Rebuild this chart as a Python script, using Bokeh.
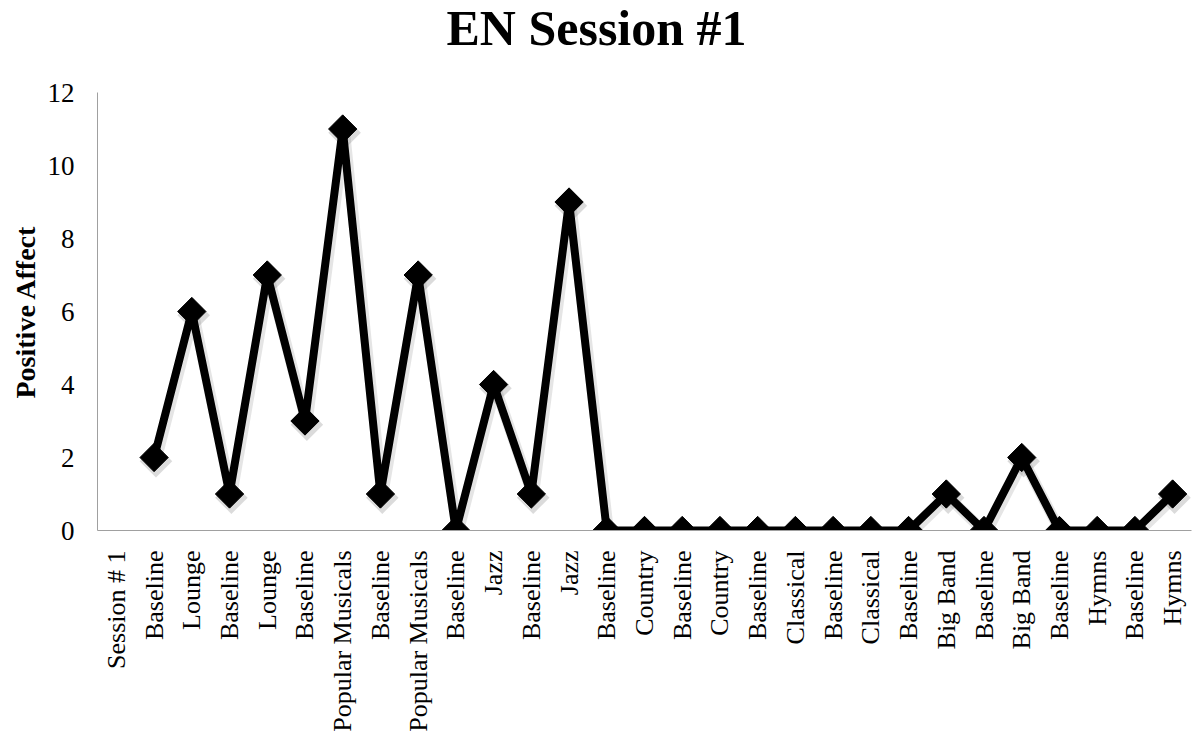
import math
from bokeh.plotting import figure
from bokeh.models import FixedTicker, ColumnDataSource, Label, Title
from bokeh.transform import dodge
from bokeh.embed import file_html
from bokeh.resources import INLINE

categories = ["Session # 1", "Baseline", "Lounge", "Baseline", "Lounge", "Baseline",
              "Popular Musicals", "Baseline", "Popular Musicals", "Baseline", "Jazz",
              "Baseline", "Jazz", "Baseline", "Country", "Baseline", "Country", "Baseline",
              "Classical", "Baseline", "Classical", "Baseline", "Big Band", "Baseline",
              "Big Band", "Baseline", "Hymns", "Baseline", "Hymns"]
positive_affect = [None, 2, 6, 1, 7, 3, 11, 1, 7, 0, 4, 1, 9, 0, 0, 0, 0, 0, 0, 0, 0,
                   0, 1, 0, 2, 0, 0, 0, 1]
y_ticks = [0, 2, 4, 6, 8, 10, 12]
title_text = "EN Session #1"
y_label = "Positive Affect"

idx = list(range(len(categories)))
xs = [i for i, v in zip(idx, positive_affect) if v is not None]
ys = [v for v in positive_affect if v is not None]
src = ColumnDataSource(dict(x=xs, y=ys))

FONT = "Liberation Serif"
W, H = 1192, 745
LEFT, BOTTOM = 97, 215
PLOT_TOP = 92          # pixel row where the top of the value axis sits
TITLE_Y = 27           # label anchor distance from the canvas top

frame_h = H - BOTTOM
y_max = y_ticks[-1]
# extend the range above the axis so that the title can live inside the frame
y_end = y_max * frame_h / (frame_h - PLOT_TOP)

p = figure(width=W, height=H, output_backend="svg", toolbar_location=None,
           x_range=(-0.5, len(categories) - 0.5), y_range=(0, y_end),
           min_border_left=LEFT, min_border_right=1, min_border_top=0,
           min_border_bottom=BOTTOM)
p.title.visible = False

title = Label(text=title_text, x=W / 2 - LEFT, y=frame_h - TITLE_Y,
              x_units="screen", y_units="screen", text_align="center",
              text_baseline="alphabetic", text_font=FONT, text_font_size="50px",
              text_font_style="bold", text_color="black")
p.add_layout(title)

p.outline_line_color = None
p.xgrid.grid_line_color = None
p.ygrid.grid_line_color = None
p.background_fill_color = "white"
p.border_fill_color = "white"

# soft shadow
p.line(x=dodge("x", 0.05), y=dodge("y", -0.08), source=src, line_color="#999999",
       line_alpha=0.25, line_width=11, line_join="bevel")
p.scatter(x=dodge("x", 0.05), y=dodge("y", -0.1), source=src, marker="square",
          angle=math.pi / 4, size=23, fill_color="#888888", fill_alpha=0.3, line_color=None)

p.line(x="x", y="y", source=src, line_color="black", line_width=8, line_join="bevel")
p.scatter(x="x", y="y", source=src, marker="square", angle=math.pi / 4, size=20,
          fill_color="black", line_color="black")

xa = p.xaxis[0]
xa.ticker = FixedTicker(ticks=idx)
xa.major_label_overrides = {i: c for i, c in enumerate(categories)}
xa.major_label_orientation = math.pi / 2
xa.major_label_text_font = FONT
xa.major_label_text_font_size = "26px"
xa.major_label_text_color = "black"
xa.major_label_standoff = 14
xa.major_tick_line_color = None
xa.minor_tick_line_color = None
xa.axis_line_color = "#a0a0a0"

ya = p.yaxis[0]
ya.ticker = FixedTicker(ticks=y_ticks)
ya.bounds = (0, y_max)
ya.major_label_text_font = FONT
ya.major_label_text_font_size = "27px"
ya.major_label_text_color = "black"
ya.major_label_standoff = 17
ya.major_tick_line_color = None
ya.minor_tick_line_color = None
ya.axis_line_color = "#a0a0a0"

# value-axis title, placed as a side title so it can be centred on the 0..12 span
y_title = Title(text=y_label, align="left", offset=132, standoff=8,
                text_font=FONT, text_font_size="28px", text_font_style="bold",
                text_color="black")
p.add_layout(y_title, "left")

open("out.html", "w").write(file_html(p, INLINE))
